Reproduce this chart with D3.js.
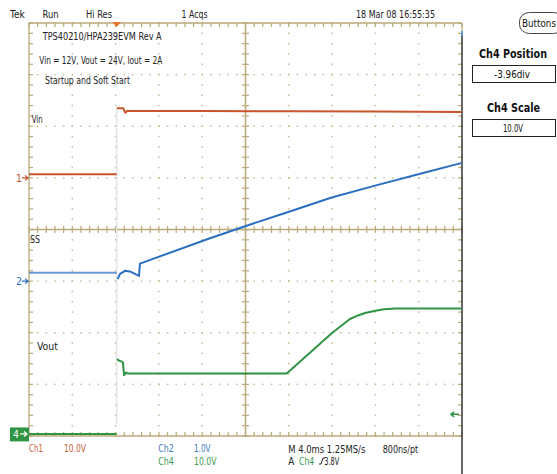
<!DOCTYPE html>
<html>
<head>
<meta charset="utf-8">
<script src="https://cdn.jsdelivr.net/npm/d3@7"></script>
<style>
  body { margin: 0; background: #fff; }
  svg { display: block; font-family: "Liberation Sans Narrow", "DejaVu Sans Condensed", "Liberation Sans", sans-serif; }
</style>
</head>
<body>
<svg width="557" height="474"></svg>
<script>
// time in ms (M 4.0ms/div, trigger at t = 0), volts per channel
var timeDivs = [-8, -4, 0, 4, 8, 12, 16, 20, 24, 28, 32];

var vinPreT = [-8, 0.1],  vinPreV = [0.7, 0.7];
var vinT = [0.12, 0.7, 0.9, 1.1, 1.3, 8, 16, 24, 32];
var vinV = [13.5, 13.5, 12.6, 13.0, 12.95, 12.95, 12.9, 12.85, 12.75];

var ssPreT = [-8, 0.1],  ssPreV = [0.16, 0.16];
var ssT = [0.19, 0.41, 0.87, 1.42, 2.16, 2.25, 8.72, 11.49, 15.95, 19.96, 23.97, 27.96, 32];
var ssV = [0.04, 0.14, 0.20, 0.18, 0.10, 0.34, 0.83, 1.03, 1.34, 1.62, 1.85, 2.07, 2.29];

var voutPreT = [-8, 0.1],  voutPreV = [0, 0];
var voutT = [0.13, 0.31, 0.59, 0.68, 0.78, 0.96, 1.15, 15.81, 19.99, 21.65, 22.39, 23.04, 24.0, 24.8, 25.81, 32];
var voutV = [14.5, 14.2, 14.0, 13.8, 11.4, 11.9, 11.7, 11.7, 19.54, 22.26, 22.95, 23.42, 23.85, 24.15, 24.29, 24.3];

// channel settings: volts/div and ground position in divisions
var ch1Scale = 10, ch1Pos = 1.0;
var ch2Scale = 1.0, ch2Pos = -1.0;
var ch4Scale = 10, ch4Pos = -3.96;
var trigLevel = 3.8;

var gridCol = "#bba978", dotCol = "#c9bb92";
var c1 = "#c9532c", c2 = "#2b6fc0", c4 = "#2f9444";

var svg = d3.select("svg");

var x = d3.scaleLinear().domain([-8, 32]).range([29, 462]);
var dv = d3.scaleLinear().domain([-4, 4]).range([436, 23]);
var y1 = v => dv(v / ch1Scale + ch1Pos);
var y2 = v => dv(v / ch2Scale + ch2Pos);
var y4 = v => dv(v / ch4Scale + ch4Pos);

var L = x(-8), R = x(32), T = dv(4), B = dv(-4);
var minorX = d3.range(-8, 32.01, 0.8);
var minorY = d3.range(-4, 4.01, 0.2);
var g = svg.append("g");

// dotted grid lines
timeDivs.slice(1, -1).forEach(function(t) {
  if (t == 12) return;
  g.selectAll(null).data(minorY).enter().append("rect")
    .attr("x", x(t) - 0.75).attr("y", d => dv(d) - 0.75)
    .attr("width", 1.5).attr("height", 1.5).attr("fill", dotCol);
});
[-3, -2, -1, 1, 2, 3].forEach(function(d0) {
  g.selectAll(null).data(minorX).enter().append("rect")
    .attr("x", d => x(d) - 0.75).attr("y", dv(d0) - 0.75)
    .attr("width", 1.5).attr("height", 1.5).attr("fill", dotCol);
});

// center cross with ticks
g.append("line").attr("x1", x(12)).attr("x2", x(12)).attr("y1", T).attr("y2", B)
  .attr("stroke", gridCol).attr("stroke-width", 1.5);
g.append("line").attr("x1", L).attr("x2", R).attr("y1", dv(0)).attr("y2", dv(0))
  .attr("stroke", gridCol).attr("stroke-width", 1.5);
g.selectAll(null).data(minorX).enter().append("line")
  .attr("x1", d => x(d)).attr("x2", d => x(d))
  .attr("y1", dv(0) - 3.5).attr("y2", dv(0) + 3.5)
  .attr("stroke", gridCol).attr("stroke-width", 1.2);
g.selectAll(null).data(minorY).enter().append("line")
  .attr("y1", d => dv(d)).attr("y2", d => dv(d))
  .attr("x1", x(12) - 3.5).attr("x2", x(12) + 3.5)
  .attr("stroke", gridCol).attr("stroke-width", 1.2);

// border ticks
g.selectAll(null).data(minorX).enter().append("line")
  .attr("x1", d => x(d)).attr("x2", d => x(d)).attr("y1", T).attr("y2", T + 4)
  .attr("stroke", gridCol).attr("stroke-width", 1.2);
g.selectAll(null).data(minorX).enter().append("line")
  .attr("x1", d => x(d)).attr("x2", d => x(d)).attr("y1", B).attr("y2", B - 4)
  .attr("stroke", gridCol).attr("stroke-width", 1.2);
g.selectAll(null).data(minorY).enter().append("line")
  .attr("y1", d => dv(d)).attr("y2", d => dv(d)).attr("x1", L).attr("x2", L + 4)
  .attr("stroke", gridCol).attr("stroke-width", 1.2);
g.selectAll(null).data(minorY).enter().append("line")
  .attr("y1", d => dv(d)).attr("y2", d => dv(d)).attr("x1", R).attr("x2", R - 4)
  .attr("stroke", gridCol).attr("stroke-width", 1.2);

g.append("path").attr("d", `M${R},${T}H${L}V${B}H${R}`)
  .attr("fill", "none").attr("stroke", gridCol).attr("stroke-width", 1.3);
g.append("line").attr("x1", R).attr("x2", R).attr("y1", T).attr("y2", T + 8)
  .attr("stroke", gridCol).attr("stroke-width", 1.3);
g.append("line").attr("x1", R).attr("x2", R).attr("y1", T + 8).attr("y2", T + 13)
  .attr("stroke", "#5b9bd0").attr("stroke-width", 2);
g.append("line").attr("x1", R).attr("x2", R).attr("y1", T + 13).attr("y2", 474)
  .attr("stroke", "#333").attr("stroke-width", 1.5);

// pale trigger edge
g.append("line").attr("x1", x(0.1)).attr("x2", x(0.1))
  .attr("y1", y1(vinV[0])).attr("y2", y4(0) - 10)
  .attr("stroke", "#e4e4e4").attr("stroke-width", 1.5);

// traces
function trace(ts, vs, yf, col, op) {
  var pts = ts.map((t, i) => [t, vs[i]]);
  svg.append("path").datum(pts)
    .attr("d", d3.line().x(d => x(d[0])).y(d => yf(d[1])))
    .attr("fill", "none").attr("stroke", col).attr("stroke-width", 2)
    .attr("stroke-linejoin", "round").attr("opacity", op || 1);
}
trace(vinPreT, vinPreV, y1, c1);
trace(vinT, vinV, y1, c1);
trace(ssPreT, ssPreV, y2, c2, 0.7);
trace(ssT, ssV, y2, c2);
trace(voutPreT, voutPreV, y4, c4);
trace(voutT, voutV, y4, c4);

// text helper
function txt(s, px, py, w, col, size, weight, anchor) {
  var t = svg.append("text").attr("x", px).attr("y", py)
    .attr("fill", col || "#222").attr("font-size", size || 11)
    .attr("font-weight", weight || "normal").text(s);
  if (anchor) t.attr("text-anchor", anchor);
  if (w) t.attr("textLength", w).attr("lengthAdjust", "spacingAndGlyphs");
  return t;
}

// header
txt("Tek", 10, 18, 15);
txt("Run", 42.5, 18, 16);
txt("Hi Res", 86, 18, 26);
txt("1 Acqs", 181.5, 18, 26);
txt("18 Mar 08 16:55:35", 356, 18, 79);

// trigger position marker
svg.append("path")
  .attr("d", `M${x(0.1) - 4.5},${T - 1}h9l-4.5,5z`).attr("fill", "#e8752f");

// annotations
txt("TPS40210/HPA239EVM Rev A", 42.7, 40, 119, "#222", 10);
txt("Vin = 12V, Vout = 24V, Iout = 2A", 39.3, 64, 123, "#222", 10);
txt("Startup and Soft Start", 45, 84, 85, "#222", 10);
txt("Vin", 31.7, 123, 11, "#222", 10.5);
txt("SS", 30, 243, 10, "#222", 10.5);
txt("Vout", 37, 350, 21, "#222", 10.5);

// channel ground markers
function marker(lbl, yy, col) {
  txt(lbl, 16, yy + 4, 6, col, 11);
  svg.append("path").attr("d", `M22,${yy}h6m-3,-2.5l3,2.5l-3,2.5`)
    .attr("fill", "none").attr("stroke", col).attr("stroke-width", 1.3);
}
marker("1", y1(0), c1);
marker("2", y2(0), c2);
svg.append("rect").attr("x", 10).attr("y", y4(0) - 6.5).attr("width", 19).attr("height", 14)
  .attr("fill", c4);
txt("4", 13, y4(0) + 4, 6, "#fff", 11);
svg.append("path").attr("d", `M20,${y4(0)}h7m-3,-2.5l3,2.5l-3,2.5`)
  .attr("fill", "none").attr("stroke", "#fff").attr("stroke-width", 1.3);

// trigger level arrow
svg.append("path").attr("d", `M${R - 3},${y4(trigLevel)}h-8m3,-2.5l-3,2.5l3,2.5`)
  .attr("fill", "none").attr("stroke", c4).attr("stroke-width", 1.6);

// bottom readouts
txt("Ch1", 29, 452, 14, "#c6603e", 10.5);
txt("10.0V", 64, 452, 22, "#c6603e", 10.5);
txt("Ch2", 158.3, 452, 15.5, "#3b7ac6", 10.5);
txt("1.0V", 194, 452, 16.5, "#3b7ac6", 10.5);
txt("Ch4", 158.3, 465, 15.5, "#3d9a52", 10.5);
txt("10.0V", 194, 465, 22.5, "#3d9a52", 10.5);
txt("M 4.0ms 1.25MS/s", 288.3, 452.5, 77, "#222", 10.5);
txt("800ns/pt", 382.7, 452.5, 35.5, "#222", 10.5);
txt("A", 288.3, 465, 6, "#222", 10.5);
txt("Ch4", 299, 465, 15.3, "#3d9a52", 10.5);
svg.append("path").attr("d", "M319,464h2l2,-6h2").attr("fill", "none")
  .attr("stroke", "#222").attr("stroke-width", 1);
txt("3.8V", 324.3, 465, 15, "#222", 10.5);

// side panel
svg.append("rect").attr("x", 519.5).attr("y", 12.5).attr("width", 44).attr("height", 21)
  .attr("rx", 10).attr("ry", 9).attr("fill", "#fff").attr("stroke", "#444").attr("stroke-width", 1);
txt("Buttons", 522, 27, 34, "#111", 10);
txt("Ch4 Position", 479, 58, 68, "#111", 11.5, "bold");
svg.append("rect").attr("x", 472.5).attr("y", 65.5).attr("width", 83).attr("height", 17)
  .attr("fill", "#fff").attr("stroke", "#222").attr("stroke-width", 1);
txt("-3.96div", 494, 78, 36, "#111", 10);
txt("Ch4 Scale", 487, 112, 53, "#111", 11.5, "bold");
svg.append("rect").attr("x", 472.5).attr("y", 119.5).attr("width", 83).attr("height", 17)
  .attr("fill", "#fff").attr("stroke", "#222").attr("stroke-width", 1);
txt("10.0V", 503, 132, 20, "#111", 10);
</script>
</body>
</html>
